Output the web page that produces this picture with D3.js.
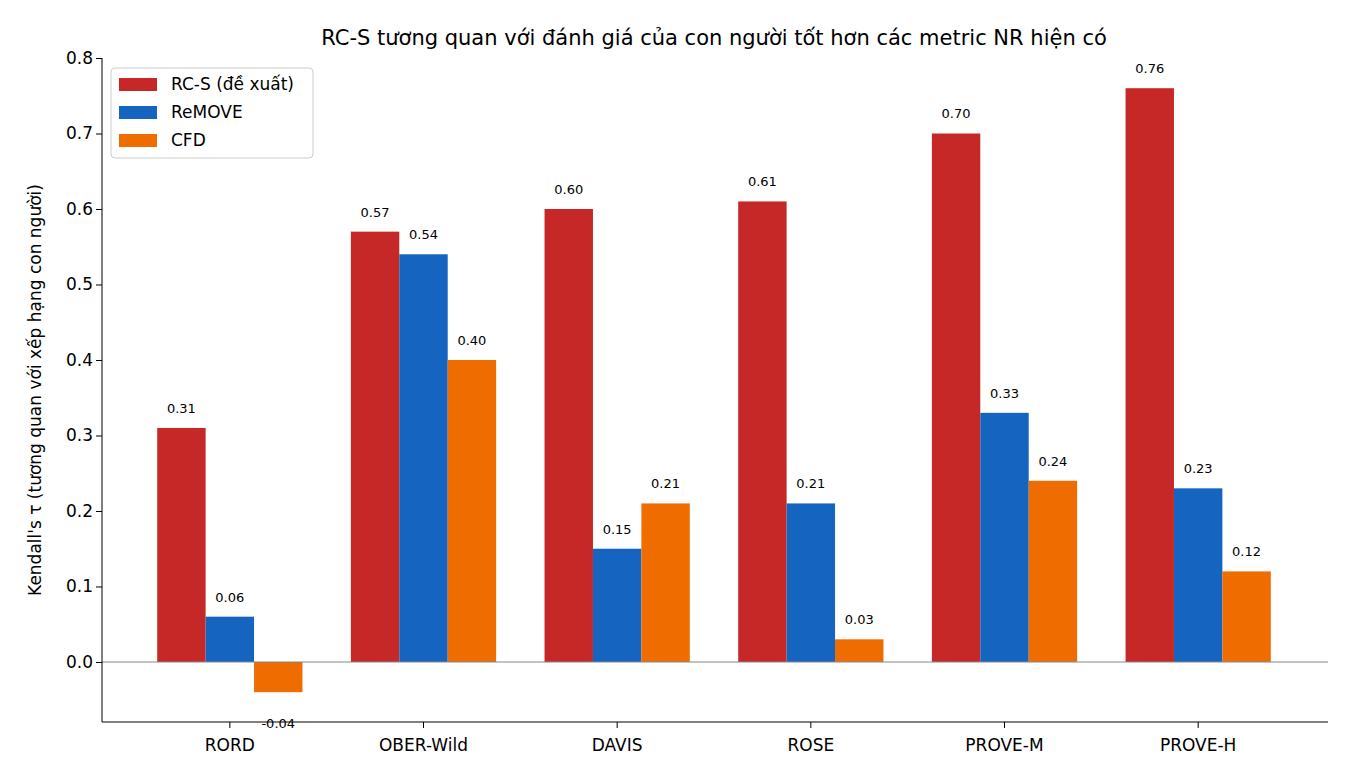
<!DOCTYPE html>
<html><head><meta charset="utf-8">
<script src="https://cdn.jsdelivr.net/npm/d3@7"></script>
<style>body{margin:0;background:#fff}text{font-family:"DejaVu Sans",sans-serif}</style>
</head><body><svg width="1350" height="780"></svg>
<script>
const categories = ["RORD", "OBER-Wild", "DAVIS", "ROSE", "PROVE-M", "PROVE-H"];
const seriesNames = ["RC-S (đề xuất)", "ReMOVE", "CFD"];
const rcs = [0.31, 0.57, 0.60, 0.61, 0.70, 0.76];
const remove = [0.06, 0.54, 0.15, 0.21, 0.33, 0.23];
const cfd = [-0.04, 0.40, 0.21, 0.03, 0.24, 0.12];
const colors = ["#c62828", "#1565c0", "#ef6c00"];
const yTicks = [0, 0.1, 0.2, 0.3, 0.4, 0.5, 0.6, 0.7, 0.8];

const series = [rcs, remove, cfd];
const svg = d3.select("svg");
const L = 102, R = 1328, T = 58, B = 722;

const x = d3.scaleBand().domain(categories).range([133, 1295]);
const bw = x.bandwidth() * 0.75 / 3;
const y = d3.scaleLinear().domain([-0.0795, 0.8]).range([B, T]);

series.forEach((vals, si) => {
  const g = svg.append("g");
  g.selectAll("rect").data(vals).enter().append("rect")
    .attr("x", (d, i) => x(categories[i]) + x.bandwidth() / 2 - 1.5 * bw + si * bw)
    .attr("width", bw)
    .attr("y", d => y(Math.max(0, d)))
    .attr("height", d => Math.abs(y(d) - y(0)))
    .attr("fill", colors[si]);
  g.selectAll("text").data(vals).enter().append("text")
    .attr("x", (d, i) => x(categories[i]) + x.bandwidth() / 2 - bw + si * bw)
    .attr("y", d => d >= 0 ? y(d) - 15 : y(d) + 36)
    .attr("text-anchor", "middle").attr("font-size", 13)
    .text(d => d.toFixed(2));
});

svg.append("line").attr("x1", L).attr("x2", R).attr("y1", y(0)).attr("y2", y(0))
  .attr("stroke", "#888").attr("stroke-width", 1.2);

const ya = svg.append("g").attr("transform", `translate(${L},0)`)
  .call(d3.axisLeft(y).tickValues(yTicks).tickFormat(d3.format(".1f")).tickSizeOuter(0));
const xa = svg.append("g").attr("transform", `translate(0,${B})`)
  .call(d3.axisBottom(x).tickSizeOuter(0));
[ya, xa].forEach(a => {
  a.selectAll("text").attr("font-size", 17).attr("fill", "#000").style("font-family", "DejaVu Sans");
  a.selectAll("line").attr("stroke", "#000");
  a.select(".domain").attr("stroke", "#000");
});
ya.select(".domain").attr("d", `M-0,${B}V${T}`);
xa.select(".domain").attr("d", `M${L},0H${R}`);
xa.selectAll("text").attr("dy", "1.2em");

svg.append("text").attr("x", 714).attr("y", 45).attr("text-anchor", "middle")
  .attr("font-size", 21).text("RC-S tương quan với đánh giá của con người tốt hơn các metric NR hiện có");
svg.append("text").attr("transform", "translate(41,390) rotate(-90)").attr("text-anchor", "middle")
  .attr("font-size", 17).text("Kendall's τ (tương quan với xếp hạng con người)");

const lg = svg.append("g").attr("transform", "translate(111,68)");
lg.append("rect").attr("width", 202).attr("height", 90).attr("rx", 4)
  .attr("fill", "#fff").attr("stroke", "#ccc");
seriesNames.forEach((n, i) => {
  lg.append("rect").attr("x", 8).attr("y", 10 + i * 28).attr("width", 38).attr("height", 13).attr("fill", colors[i]);
  lg.append("text").attr("x", 60).attr("y", 22 + i * 28).attr("font-size", 17).text(n);
});
</script></body></html>
